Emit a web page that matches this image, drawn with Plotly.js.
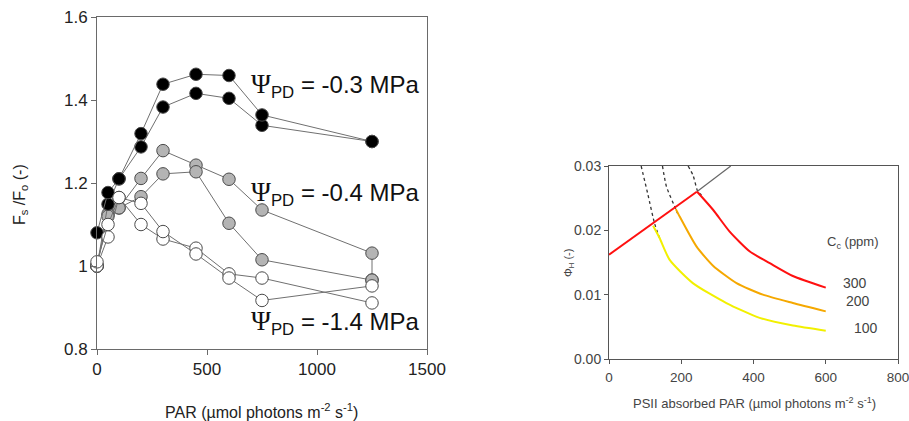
<!DOCTYPE html>
<html>
<head>
<meta charset="utf-8">
<script src="https://cdn.plot.ly/plotly-3.0.1.min.js"></script>
<style>
  html, body { margin: 0; padding: 0; background: #fff; }
  #chart { width: 909px; height: 421px; }
</style>
</head>
<body>
<div id="chart"></div>
<script>
// ---- Left panel: Fs/Fo vs PAR for three pre-dawn water potentials ----
const parLevels = [0, 50, 100, 200, 300, 450, 600, 750, 1250];
const psi03a = [1.08, 1.177, 1.21, 1.319, 1.438, 1.462, 1.459, 1.364, 1.30];
const psi03b = [1.00, 1.149, 1.21, 1.287, 1.383, 1.416, 1.404, 1.339, 1.30];
const psi04aPar = [0, 50, 100, 200, 300, 450, 600, 750, 1250, 1250];
const psi04a = [1.00, 1.125, 1.14, 1.211, 1.278, 1.243, 1.209, 1.135, 1.031, 0.966];
const psi04b = [1.00, 1.12, 1.14, 1.167, 1.222, 1.227, 1.103, 1.015, 0.966];
const psi14a = [1.01, 1.10, 1.165, 1.151, 1.083, 1.029, 0.971, 0.917, 0.952];
const psi14b = [1.00, 1.07, 1.165, 1.10, 1.065, 1.043, 0.981, 0.971, 0.911];
const psiLabels = ["-0.3", "-0.4", "-1.4"];
const leftXTicks = [0, 500, 1000, 1500];

// ---- Right panel: PhiH vs PSII absorbed PAR for three Cc levels ----
const limitPar = [0, 243];
const limitPhi = [0.0162, 0.026];
const limitExtPar = [243, 337];
const limitExtPhi = [0.026, 0.030];
const cc300Par = [244, 288, 334, 390, 445, 509, 600];
const cc300Phi = [0.026, 0.0232, 0.0198, 0.0167, 0.0149, 0.0129, 0.0111];
const cc200Par = [185, 196, 242, 288, 353, 426, 509, 600];
const cc200Phi = [0.0233, 0.0221, 0.0175, 0.0145, 0.0118, 0.0100, 0.0087, 0.0074];
const cc100Par = [122, 140, 168, 232, 325, 417, 509, 600];
const cc100Phi = [0.0207, 0.0188, 0.0154, 0.0118, 0.0087, 0.0064, 0.0052, 0.0044];
const dot100Par = [89, 108, 126, 140];
const dot100Phi = [0.030, 0.0255, 0.0211, 0.0188];
const dot200Par = [148, 159, 185, 190];
const dot200Phi = [0.030, 0.0268, 0.0233, 0.0226];
const dot300Par = [219, 233, 246, 256];
const dot300Phi = [0.030, 0.0285, 0.026, 0.0255];
const ccLabels = ["300", "200", "100"];
const rightXTicks = [0, 200, 400, 600, 800];

const FONT = "Liberation Sans, Arial, sans-serif";
const linkColor = "#707070";

function markerSeries(x, y, fill) {
  return {
    x: x, y: y, xaxis: "x", yaxis: "y",
    type: "scatter", mode: "lines+markers", cliponaxis: false,
    line: { color: linkColor, width: 1 },
    marker: { size: 12.5, color: fill, line: { color: "#4a4a4a", width: 1 } },
    showlegend: false, hoverinfo: "skip"
  };
}

function curve(x, y, color, width, dash) {
  return {
    x: x, y: y, xaxis: "x2", yaxis: "y2",
    type: "scatter", mode: "lines", cliponaxis: true,
    line: { color: color, width: width, dash: dash || "solid", shape: "spline", smoothing: 0.6 },
    showlegend: false, hoverinfo: "skip"
  };
}

const traces = [
  markerSeries(psi04aPar, psi04a, "#b4b4b4"),
  markerSeries(parLevels, psi04b, "#b4b4b4"),
  markerSeries(parLevels, psi03b, "#000000"),
  markerSeries(parLevels, psi03a, "#000000"),
  markerSeries(parLevels, psi14b, "#ffffff"),
  markerSeries(parLevels, psi14a, "#ffffff"),

  curve(dot100Par, dot100Phi, "#333333", 1.3, "dot"),
  curve(dot200Par, dot200Phi, "#333333", 1.3, "dot"),
  curve(dot300Par, dot300Phi, "#333333", 1.3, "dot"),
  curve(limitExtPar, limitExtPhi, "#666666", 1.2),
  curve(cc100Par, cc100Phi, "#f2f000", 2),
  curve(cc200Par, cc200Phi, "#f5a800", 2),
  curve(cc300Par, cc300Phi, "#ff1010", 2),
  curve(limitPar, limitPhi, "#ff1010", 2)
];

const W = 909, H = 421;
const px = v => v / W;
const py = v => (H - v) / H;

const layout = {
  width: W, height: H,
  margin: { l: 0, r: 0, t: 0, b: 0 },
  paper_bgcolor: "#ffffff", plot_bgcolor: "#ffffff",
  font: { family: FONT, color: "#222" },
  showlegend: false,
  xaxis: {
    domain: [px(97), px(427)], range: [0, 1500],
    tickmode: "array", tickvals: leftXTicks, ticktext: leftXTicks.map(String),
    showgrid: false, zeroline: false,
    showline: true, mirror: true, linecolor: "#6a6a6a", linewidth: 1,
    ticks: "outside", ticklen: 5, tickcolor: "#6a6a6a",
    ticklabeloverflow: "allow",
    tickfont: { size: 17, color: "#222", family: FONT },
    anchor: "y"
  },
  yaxis: {
    domain: [py(349), py(17)], range: [0.8, 1.6], dtick: 0.2,
    showgrid: false, zeroline: false,
    showline: true, mirror: true, linecolor: "#6a6a6a", linewidth: 1,
    ticks: "outside", ticklen: 5, tickcolor: "#6a6a6a",
    tickfont: { size: 17, color: "#222", family: FONT },
    anchor: "x"
  },
  xaxis2: {
    domain: [px(609), px(898)], range: [0, 800],
    tickmode: "array", tickvals: rightXTicks, ticktext: rightXTicks.map(String),
    showgrid: false, zeroline: false,
    showline: true, mirror: true, linecolor: "#555", linewidth: 1,
    ticks: "outside", ticklen: 4, tickcolor: "#555",
    ticklabeloverflow: "allow", ticklabelstandoff: 2,
    tickfont: { size: 13.5, color: "#444", family: FONT },
    anchor: "y2"
  },
  yaxis2: {
    domain: [py(359), py(166)], range: [0, 0.03], dtick: 0.01, tickformat: ".2f",
    showgrid: false, zeroline: false,
    showline: true, mirror: true, linecolor: "#555", linewidth: 1,
    ticks: "outside", ticklen: 4, tickcolor: "#555",
    tickfont: { size: 14, color: "#444", family: FONT },
    anchor: "x2"
  },
  annotations: []
};

const ann = layout.annotations;
// axis titles, left panel
ann.push({ xref: "paper", yref: "paper", x: px(261), y: py(411), xanchor: "center", yanchor: "middle",
  text: "PAR (µmol photons m<sup>-2</sup> s<sup>-1</sup>)", showarrow: false,
  font: { size: 16, color: "#222", family: FONT } });
ann.push({ xref: "paper", yref: "paper", x: px(20), y: py(195), xanchor: "center", yanchor: "middle",
  textangle: -90, text: "F<sub>s</sub> /F<sub>o</sub> (-)", showarrow: false,
  font: { size: 16, color: "#222", family: FONT } });

// water potential labels
const psiY = [85, 193, 322];
psiLabels.forEach((v, i) => {
  ann.push({ xref: "paper", yref: "paper", x: px(249), y: py(psiY[i]), xanchor: "left", yanchor: "middle",
    text: "<span style='font-family:Liberation Serif, Times New Roman, serif;font-size:27px'>Ψ</span><sub>PD</sub> = " + v + " MPa",
    showarrow: false, font: { size: 24, color: "#111", family: FONT } });
});

// axis titles, right panel
ann.push({ xref: "paper", yref: "paper", x: px(754), y: py(403), xanchor: "center", yanchor: "middle",
  text: "PSII absorbed PAR (µmol photons m<sup>-2</sup> s<sup>-1</sup>)", showarrow: false,
  font: { size: 13, color: "#444", family: FONT } });
ann.push({ xref: "paper", yref: "paper", x: px(569), y: py(263), xanchor: "center", yanchor: "middle",
  textangle: -90, text: "Φ<sub>H</sub> (-)", showarrow: false,
  font: { size: 11, color: "#444", family: FONT } });

// Cc labels
ann.push({ xref: "paper", yref: "paper", x: px(825), y: py(242), xanchor: "left", yanchor: "middle",
  text: "C<sub>c</sub> (ppm)", showarrow: false, font: { size: 13, color: "#444", family: FONT } });
const ccX = [841, 844, 852];
const ccY = [283, 301, 328];
ccLabels.forEach((t, i) => {
  ann.push({ xref: "paper", yref: "paper", x: px(ccX[i]), y: py(ccY[i]), xanchor: "left", yanchor: "middle",
    text: t, showarrow: false, font: { size: 14, color: "#444", family: FONT } });
});

Plotly.newPlot("chart", traces, layout, { staticPlot: true, displayModeBar: false });
</script>
</body>
</html>
